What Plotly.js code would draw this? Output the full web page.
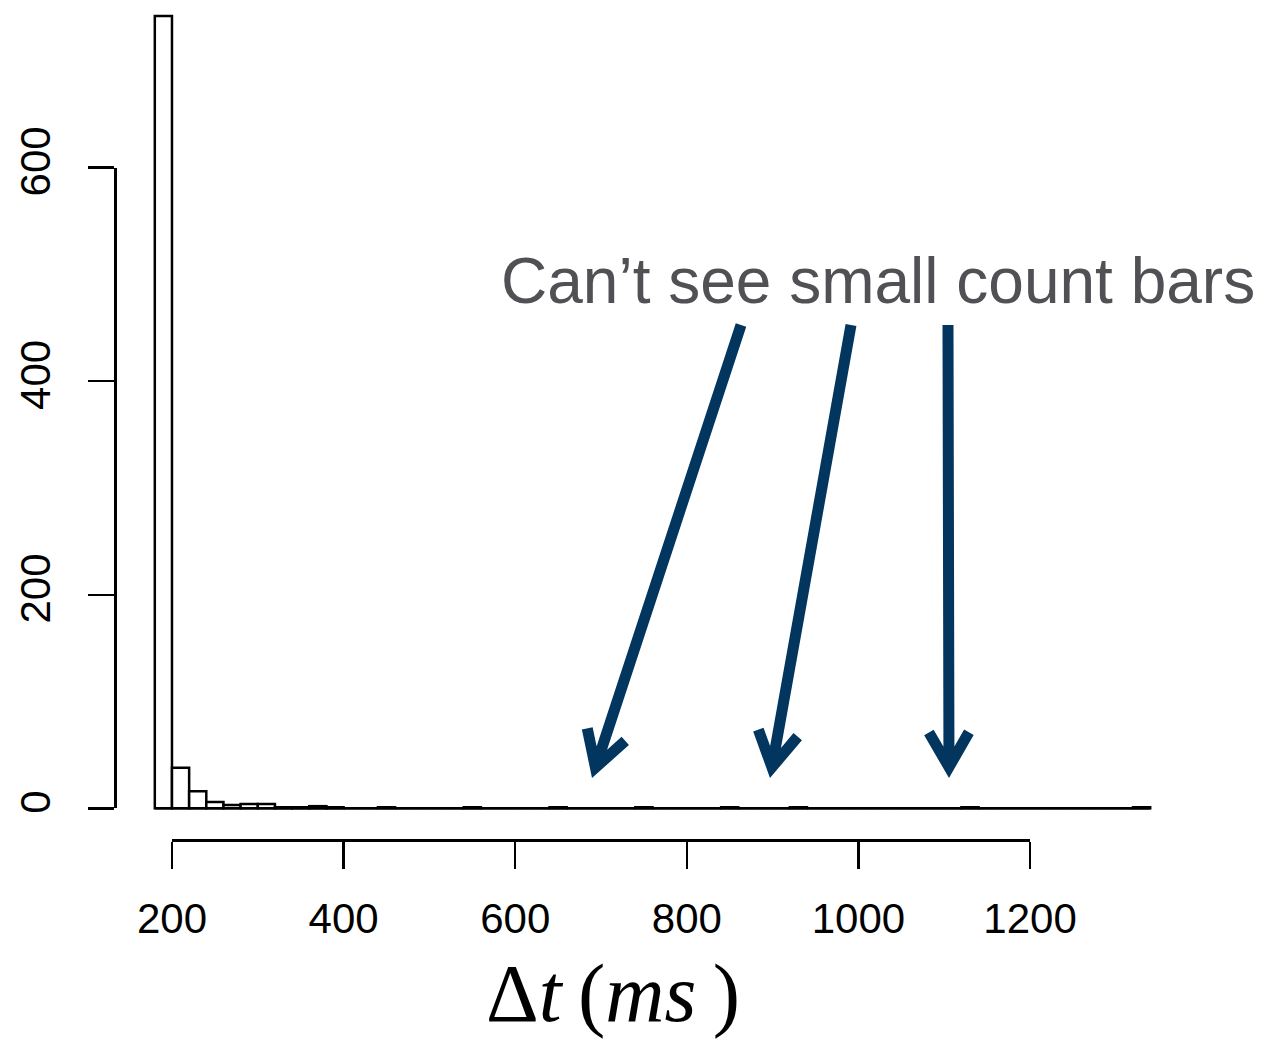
<!DOCTYPE html>
<html>
<head>
<meta charset="utf-8">
<script src="https://cdn.plot.ly/plotly-3.0.1.min.js"></script>
<style>
html,body{margin:0;padding:0;background:#ffffff;}
#chart{width:1265px;height:1041px;}
</style>
</head>
<body>
<div id="chart"></div>
<script>
// ---- data ----
const binStarts = [180,200,220,240,260,280,300,320,340,360,380,400,420,440,460,480,500,520,540,560,
                   580,600,620,640,660,680,700,720,740,760,780,800,820,840,860,880,900,920,940,960,
                   980,1000,1020,1040,1060,1080,1100,1120,1140,1160,1180,1200,1220,1240,1260,1280,1300,1320];
const counts    = [742,38,16,6,3,4,4,1,1,2,1,0,0,1,0,0,0,0,1,0,
                   0,0,0,1,0,0,0,0,1,0,0,0,0,1,0,0,0,1,0,0,
                   0,0,0,0,0,0,0,1,0,0,0,0,0,0,0,0,0,1];
const binWidth = 20;
const xTickVals = [200,400,600,800,1000,1200];
const yTickVals = [0,200,400,600];
const calloutText = 'Can\u2019t see small count bars';
const xTitleText = '\u0394<i>t</i>\u2009(<i>ms</i>\u2009)';

// ---- layout geometry ----
const W = 1265, H = 1041;
const M = {l:115, r:75, t:0, b:201};
const PW = W - M.l - M.r, PH = H - M.t - M.b;

const binEnd = binStarts[binStarts.length-1] + binWidth;
const span = binEnd - binStarts[0];
const xr = [binStarts[0] - 0.04*span, binEnd + 0.04*span];
const maxCount = Math.max.apply(null, counts);
const yr = [-0.04*maxCount, 757];

const px2x = px => (px - M.l) / PW;
const py2y = py => (M.t + PH - py) / PH;

const xTickDomain = [(xTickVals[0]-xr[0])/(xr[1]-xr[0]), (xTickVals[xTickVals.length-1]-xr[0])/(xr[1]-xr[0])];
const yTickDomain = [(yTickVals[0]-yr[0])/(yr[1]-yr[0]), (yTickVals[yTickVals.length-1]-yr[0])/(yr[1]-yr[0])];

const barTrace = {
  type:'bar',
  x: binStarts.map(b => b + binWidth/2),
  y: counts,
  width: binWidth,
  marker:{color:'#ffffff', line:{color:'#000000', width:2.5}},
  hoverinfo:'x+y',
  showlegend:false
};
const axisTrace = {type:'scatter', x:[], y:[], xaxis:'x2', yaxis:'y2', showlegend:false, hoverinfo:'skip'};

const tickFont = {family:'"Liberation Sans", Arial, sans-serif', size:42, color:'#000000'};

// ---- callout arrows (annotation graphics, pixel positions) ----
const arrowDefs = [
  {tail:[741,325], tip:[592,778]},
  {tail:[851,325], tip:[770,778]},
  {tail:[948,325], tip:[949,778]}
];
const arrowColor = '#02365f';
const shapes = [];
// histogram baseline spanning all bins
shapes.push({type:'line', xref:'x', yref:'y', x0:binStarts[0], x1:binEnd, y0:0, y1:0,
             line:{color:'#000000', width:2.5}, layer:'above'});
arrowDefs.forEach(a => {
  const dx = a.tip[0]-a.tail[0], dy = a.tip[1]-a.tail[1];
  const L = Math.hypot(dx,dy); const ux = dx/L, uy = dy/L;
  const v = [a.tip[0]-ux*11, a.tip[1]-uy*11];
  const ang = 30*Math.PI/180, wl = 40;
  const rot = (x,y,t) => [x*Math.cos(t)-y*Math.sin(t), x*Math.sin(t)+y*Math.cos(t)];
  const r1 = rot(ux,uy,ang), r2 = rot(ux,uy,-ang);
  const w1 = [v[0]-r1[0]*wl, v[1]-r1[1]*wl];
  const w2 = [v[0]-r2[0]*wl, v[1]-r2[1]*wl];
  const s = [v[0]-ux*4, v[1]-uy*4];
  const P = p => px2x(p[0]).toFixed(5)+','+py2y(p[1]).toFixed(5);
  shapes.push({type:'path', xref:'paper', yref:'paper',
    path:'M'+P(a.tail)+' L'+P(s)+' M'+P(w1)+' L'+P(v)+' L'+P(w2),
    line:{color:arrowColor, width:11}, fillcolor:'rgba(0,0,0,0)', layer:'above'});
});

const layout = {
  width:W, height:H,
  margin:M,
  paper_bgcolor:'#ffffff',
  plot_bgcolor:'rgba(0,0,0,0)',
  bargap:0,
  showlegend:false,
  xaxis:{range:xr, visible:false, fixedrange:true},
  yaxis:{range:yr, visible:false, fixedrange:true},
  xaxis2:{domain:xTickDomain, range:[xTickVals[0], xTickVals[xTickVals.length-1]], anchor:'free', position:0,
    showline:true, linecolor:'#000000', linewidth:2.5, ticks:'outside', ticklen:27, tickwidth:2.5, tickcolor:'#000000',
    tickmode:'array', tickvals:xTickVals, ticktext:xTickVals.map(String), tickfont:tickFont,
    showgrid:false, zeroline:false, fixedrange:true, ticklabelstandoff:14},
  yaxis2:{domain:yTickDomain, range:[yTickVals[0], yTickVals[yTickVals.length-1]], anchor:'free', position:0,
    showline:true, linecolor:'#000000', linewidth:2.5, ticks:'outside', ticklen:26, tickwidth:2.5, tickcolor:'#000000',
    tickmode:'array', tickvals:yTickVals, ticktext:yTickVals.map(String), tickfont:tickFont, tickangle:-90,
    showgrid:false, zeroline:false, fixedrange:true, ticklabelstandoff:21},
  shapes:shapes,
  annotations:[
    {text:calloutText, xref:'paper', yref:'paper', x:px2x(878), y:py2y(281), xanchor:'center', yanchor:'middle',
     showarrow:false, font:{family:'"Liberation Sans", Arial, sans-serif', size:64, color:'#505055'}},
    {text:xTitleText, xref:'paper', yref:'paper', x:px2x(613), y:py2y(993), xanchor:'center', yanchor:'middle',
     showarrow:false, font:{family:'"Liberation Serif", "Times New Roman", serif', size:82, color:'#000000'}}
  ]
};

Plotly.newPlot('chart', [barTrace, axisTrace], layout, {displayModeBar:false, staticPlot:true});
</script>
</body>
</html>
